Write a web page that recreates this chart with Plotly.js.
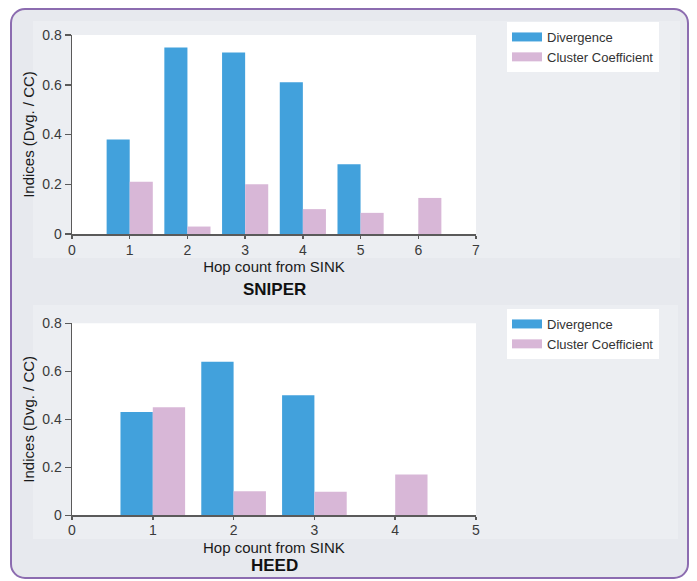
<!DOCTYPE html>
<html>
<head>
<meta charset="utf-8">
<script src="https://cdn.plot.ly/plotly-3.0.1.min.js"></script>
<style>
  html, body { margin: 0; padding: 0; background: #ffffff; }
  #wrap { position: relative; width: 697px; height: 581px; overflow: hidden; }
  #frame { position: absolute; left: 10px; top: 8px; width: 675px; height: 567px;
           border: 2px solid #8c6cb0; border-radius: 15px; background: #e7e9ee; }
  #chart { position: absolute; left: 0; top: 0; width: 697px; height: 581px; }
</style>
</head>
<body>
<div id="wrap">
  <div id="frame"></div>
  <div id="chart"></div>
</div>
<script>
// ---- data ----
const seriesNames = ["Divergence", "Cluster Coefficient"];
const hopsSniper = [1, 2, 3, 4, 5, 6];
const divSniper  = [0.38, 0.75, 0.73, 0.61, 0.28, 0];
const ccSniper   = [0.21, 0.03, 0.20, 0.10, 0.085, 0.145];
const hopsHeed   = [1, 2, 3, 4];
const divHeed    = [0.43, 0.64, 0.50, 0];
const ccHeed     = [0.45, 0.10, 0.098, 0.17];
const yTicks     = [0, 0.2, 0.4, 0.6, 0.8];
const yTickText  = ["0", "0.2", "0.4", "0.6", "0.8"];
const panelTitles = ["SNIPER", "HEED"];
const xTitle = "Hop count from SINK";
const yTitle = "Indices (Dvg. / CC)";

// ---- styling ----
const W = 697, H = 581;
const px = v => v / W;
const py = v => 1 - v / H;
const BLUE = "#42a1dc", PINK = "#d8b7d7";
const FONT = "Liberation Sans, Arial, sans-serif";

const xDom = [px(72), px(476)];
const yDomTop = [py(234), py(35)];
const yDomBot = [py(515.3), py(323.3)];

function bar(x, y, name, color, xa, ya) {
  return { type: "bar", x: x, y: y, name: name, xaxis: xa, yaxis: ya,
           marker: { color: color, line: { width: 0 } }, showlegend: false,
           hoverinfo: "x+y+name" };
}
function legendProxy(name, color, xa, ya, lg) {
  return { type: "scatter", mode: "lines", x: [null], y: [null], name: name,
           xaxis: xa, yaxis: ya, legend: lg,
           line: { color: color, width: 9 }, hoverinfo: "skip" };
}

const data = [
  bar(hopsSniper, divSniper, seriesNames[0], BLUE, "x", "y"),
  bar(hopsSniper, ccSniper,  seriesNames[1], PINK, "x", "y"),
  bar(hopsHeed,   divHeed,   seriesNames[0], BLUE, "x2", "y2"),
  bar(hopsHeed,   ccHeed,    seriesNames[1], PINK, "x2", "y2"),
  legendProxy(seriesNames[0], BLUE, "x", "y", "legend"),
  legendProxy(seriesNames[1], PINK, "x", "y", "legend"),
  legendProxy(seriesNames[0], BLUE, "x2", "y2", "legend2"),
  legendProxy(seriesNames[1], PINK, "x2", "y2", "legend2")
];

const tickFont = { family: FONT, size: 14, color: "#3a3a3a" };
const titleFont = { family: FONT, size: 15, color: "#1a1a1a" };

function xAxis(maxX, dom, anchor, withTitle, labelShift) {
  const ax = { domain: dom, anchor: anchor, range: [0, maxX], tick0: 0, dtick: 1,
           showgrid: false, zeroline: false, showline: true, linecolor: "#5a5a5a", linewidth: 1.5,
           ticks: "outside", ticklen: 3, tickcolor: "#5a5a5a", tickwidth: 1.5,
           ticklabelstandoff: labelShift,
           tickfont: tickFont, fixedrange: true };
  if (withTitle) ax.title = { text: xTitle, font: titleFont, standoff: 4 };
  return ax;
}
function yAxis(dom, anchor) {
  return { domain: dom, anchor: anchor, range: [0, 0.8], tickvals: yTicks, ticktext: yTickText,
           showgrid: false, zeroline: false, showline: true, linecolor: "#5a5a5a", linewidth: 1.5,
           ticks: "outside", ticklen: 6, tickcolor: "#5a5a5a", tickwidth: 1.5,
           tickfont: tickFont, fixedrange: true,
           title: { text: yTitle, font: titleFont, standoff: 4 } };
}

const legendBase = { xref: "paper", yref: "paper", xanchor: "left", yanchor: "top",
                     bgcolor: "#ffffff", borderwidth: 0,
                     font: { family: FONT, size: 13, color: "#333" } };

const layout = {
  width: W, height: H, autosize: false,
  margin: { l: 0, r: 0, t: 0, b: 0 },
  paper_bgcolor: "rgba(0,0,0,0)", plot_bgcolor: "rgba(0,0,0,0)",
  font: { family: FONT },
  barmode: "group", bargap: 0.2, bargroupgap: 0,
  xaxis: xAxis(7, xDom, "y", true, 0),
  yaxis: yAxis(yDomTop, "x"),
  xaxis2: xAxis(5, xDom, "y2", false, -2),
  yaxis2: yAxis(yDomBot, "x2"),
  legend: Object.assign({ x: px(507), y: py(22) }, legendBase),
  legend2: Object.assign({ x: px(507), y: py(309) }, legendBase),
  shapes: [
    { type: "rect", xref: "paper", yref: "paper", layer: "below",
      x0: px(33), x1: px(680), y0: py(258), y1: py(21), fillcolor: "#eceef2", line: { width: 0 } },
    { type: "rect", xref: "paper", yref: "paper", layer: "below",
      x0: xDom[0], x1: xDom[1], y0: yDomTop[0], y1: yDomTop[1], fillcolor: "#ffffff", line: { width: 0 } },
    { type: "rect", xref: "paper", yref: "paper", layer: "below",
      x0: px(33), x1: px(678), y0: py(539), y1: py(305), fillcolor: "#eceef2", line: { width: 0 } },
    { type: "rect", xref: "paper", yref: "paper", layer: "below",
      x0: xDom[0], x1: xDom[1], y0: yDomBot[0], y1: yDomBot[1], fillcolor: "#ffffff", line: { width: 0 } }
  ],
  annotations: [
    { text: xTitle, xref: "paper", yref: "paper", x: px(274), y: py(547),
      xanchor: "center", yanchor: "middle", showarrow: false, font: titleFont },
    { text: "<b>" + panelTitles[0] + "</b>", xref: "paper", yref: "paper", x: px(274), y: py(289),
      xanchor: "center", yanchor: "middle", showarrow: false,
      font: { family: FONT, size: 17, color: "#111" } },
    { text: "<b>" + panelTitles[1] + "</b>", xref: "paper", yref: "paper", x: px(274), y: py(565),
      xanchor: "center", yanchor: "middle", showarrow: false,
      font: { family: FONT, size: 17, color: "#111" } }
  ]
};

Plotly.newPlot("chart", data, layout, { staticPlot: true, displayModeBar: false });
</script>
</body>
</html>
